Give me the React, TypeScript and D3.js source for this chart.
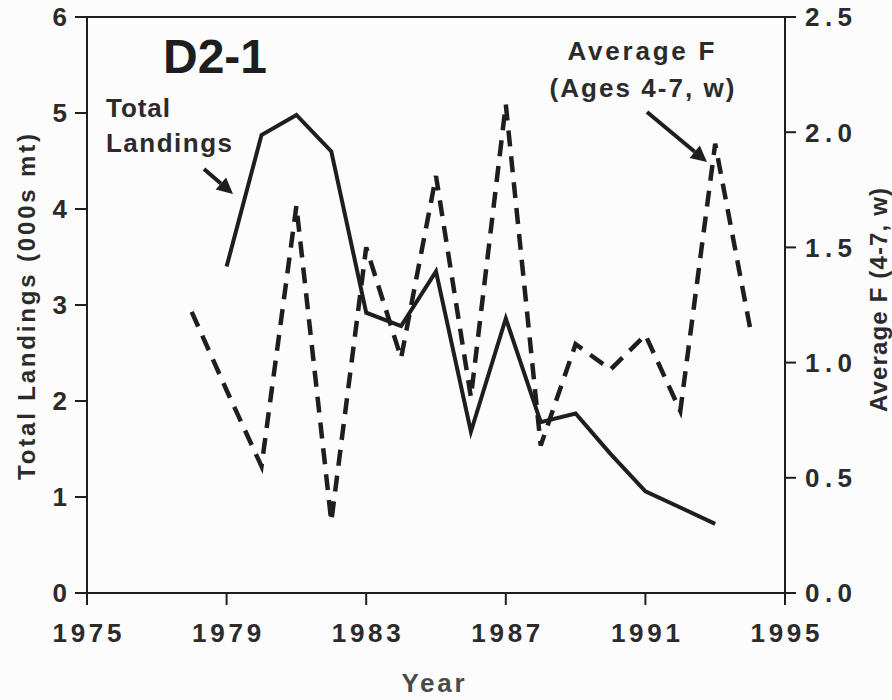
import React from "react";
import * as d3 from "d3";

// ---- data ----
const landingYears = [1979, 1980, 1981, 1982, 1983, 1984, 1985, 1986, 1987, 1988, 1989, 1990, 1991, 1992, 1993];
const totalLandings = [3.4, 4.77, 4.98, 4.6, 2.92, 2.78, 3.35, 1.68, 2.86, 1.78, 1.87, 1.45, 1.06, 0.89, 0.72];

const fYears = [1978, 1979, 1980, 1981, 1982, 1983, 1984, 1985, 1986, 1987, 1988, 1989, 1990, 1991, 1992, 1993, 1994];
const averageF = [1.22, 0.88, 0.55, 1.68, 0.31, 1.5, 1.02, 1.81, 0.85, 2.12, 0.64, 1.08, 0.97, 1.12, 0.79, 1.95, 1.15];

const yearTicks = [1975, 1979, 1983, 1987, 1991, 1995];
const leftTicks = [0, 1, 2, 3, 4, 5, 6];
const rightTicks = [0, 0.5, 1.0, 1.5, 2.0, 2.5];

const W = 892;
const H = 700;
const FONT = "'Liberation Sans', Arial, Helvetica, sans-serif";
const INK = "#1e1e1e";
const TXT = "#2b2b2b";

export default function App() {
  const left = 87;
  const right = 785;
  const top = 17;
  const bottom = 593;

  const x = d3.scaleLinear().domain([1975, 1995]).range([left, right]);
  const yL = d3.scaleLinear().domain([0, 6]).range([bottom, top]);
  const yR = d3.scaleLinear().domain([0, 2.5]).range([bottom, top]);

  const solidLine = d3
    .line<number>()
    .x((_, i) => x(landingYears[i]))
    .y((d) => yL(d));
  const dashedLine = d3
    .line<number>()
    .x((_, i) => x(fYears[i]))
    .y((d) => yR(d));

  const arrow = (x1: number, y1: number, x2: number, y2: number, key: string) => {
    const ang = Math.atan2(y2 - y1, x2 - x1);
    const len = 16;
    const hw = 8;
    const bx = x2 - len * Math.cos(ang);
    const by = y2 - len * Math.sin(ang);
    const px = -Math.sin(ang) * hw;
    const py = Math.cos(ang) * hw;
    return (
      <g key={key}>
        <line x1={x1} y1={y1} x2={bx} y2={by} stroke={INK} strokeWidth={4} />
        <polygon points={`${x2},${y2} ${bx + px},${by + py} ${bx - px},${by - py}`} fill={INK} />
      </g>
    );
  };

  return (
    <svg
      width={W}
      height={H}
      style={{ position: "absolute", left: 0, top: 0, background: "#fcfcfc" }}
      fontFamily={FONT}
      fontWeight="bold"
    >
      {/* frame */}
      <line x1={left} y1={top} x2={right} y2={top} stroke={INK} strokeWidth={2} />
      <line x1={left} y1={top} x2={left} y2={bottom} stroke={INK} strokeWidth={2} />
      <line x1={right} y1={top} x2={right} y2={bottom} stroke={INK} strokeWidth={2} />
      <line x1={left} y1={bottom} x2={right} y2={bottom} stroke={INK} strokeWidth={2} />

      {/* left axis */}
      {leftTicks.map((t) => (
        <g key={"l" + t}>
          <line x1={left - 12} x2={left} y1={yL(t)} y2={yL(t)} stroke={INK} strokeWidth={2} />
          <text x={67} y={yL(t)} dy="0.36em" textAnchor="end" fontSize={26} fill={TXT}>
            {t}
          </text>
        </g>
      ))}

      {/* right axis */}
      {rightTicks.map((t) => (
        <g key={"r" + t}>
          <line x1={right} x2={right + 11} y1={yR(t)} y2={yR(t)} stroke={INK} strokeWidth={2} />
          <text
            x={805}
            y={yR(t)}
            dy="0.36em"
            textAnchor="start"
            fontSize={26}
            fill={TXT}
            textLength={47}
            lengthAdjust="spacing"
          >
            {t.toFixed(1)}
          </text>
        </g>
      ))}

      {/* bottom axis */}
      {yearTicks.map((t) => (
        <g key={"b" + t}>
          <line x1={x(t)} x2={x(t)} y1={bottom} y2={bottom + 12} stroke={INK} strokeWidth={2} />
          <text
            x={x(t)}
            y={642}
            textAnchor="middle"
            fontSize={26}
            fill={TXT}
            textLength={69}
            lengthAdjust="spacing"
          >
            {t}
          </text>
        </g>
      ))}

      {/* axis titles */}
      <text x={433} y={692} textAnchor="middle" fontSize={26} fill="#4a4a4a" textLength={63} lengthAdjust="spacing">
        Year
      </text>
      <text
        transform="translate(35,307) rotate(-90)"
        textAnchor="middle"
        fontSize={24}
        fill={TXT}
        textLength={346}
        lengthAdjust="spacing"
      >
        Total Landings (000s mt)
      </text>
      <text
        transform="translate(887,300) rotate(-90)"
        textAnchor="middle"
        fontSize={24}
        fill={TXT}
        textLength={224}
        lengthAdjust="spacing"
      >
        Average F (4-7, w)
      </text>

      {/* series */}
      <path d={dashedLine(averageF) || ""} fill="none" stroke={INK} strokeWidth={4.5} strokeDasharray="16 10" />
      <path d={solidLine(totalLandings) || ""} fill="none" stroke={INK} strokeWidth={4} strokeLinejoin="miter" />

      {/* panel label */}
      <text x={163} y={73} fontSize={48} fill={INK} textLength={104} lengthAdjust="spacingAndGlyphs">
        D2-1
      </text>

      {/* annotations */}
      <text x={106} y={117} fontSize={26} fill={TXT} textLength={64} lengthAdjust="spacing">
        Total
      </text>
      <text x={106} y={152} fontSize={26} fill={TXT} textLength={126} lengthAdjust="spacing">
        Landings
      </text>
      {arrow(204, 169, 233, 194, "a1")}

      <text x={641} y={60} textAnchor="middle" fontSize={26} fill={TXT} textLength={147} lengthAdjust="spacing">
        Average F
      </text>
      <text x={642} y={97} textAnchor="middle" fontSize={26} fill={TXT} textLength={185} lengthAdjust="spacing">
        (Ages 4-7, w)
      </text>
      {arrow(647, 112, 707, 162, "a2")}
    </svg>
  );
}
